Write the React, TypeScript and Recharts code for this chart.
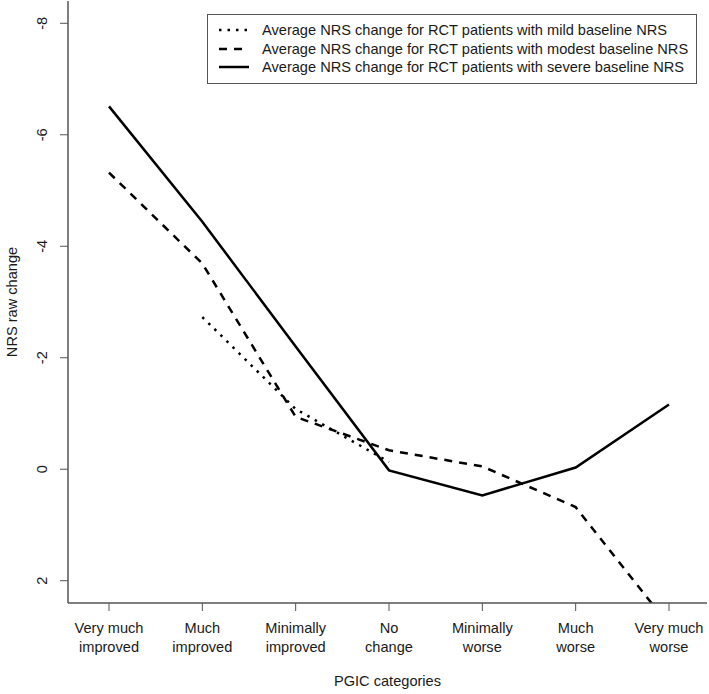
import React from "react";
import {
    LineChart,
    Line,
    XAxis,
    YAxis,
    Legend,
} from "recharts";

const categories = [
    "Very much improved",
    "Much improved",
    "Minimally improved",
    "No change",
    "Minimally worse",
    "Much worse",
    "Very much worse",
];

const mildValues = [null, -2.73, -1.08, -0.13, null, null, null];
const modestValues = [-5.32, -3.69, -0.94, -0.34, -0.05, 0.68, 2.8];
const severeValues = [-6.51, -4.44, -2.2, 0.02, 0.47, -0.03, -1.16];

const yTicks = [-8, -6, -4, -2, 0, 2];

const seriesNames = [
    "Average NRS change for RCT patients with mild baseline NRS",
    "Average NRS change for RCT patients with modest baseline NRS",
    "Average NRS change for RCT patients with severe baseline NRS",
];

const FONT = "'Liberation Sans', Arial, sans-serif";
const FS = 14.6;
const AXIS = "#555";
const TEXT = "#1a1a1a";

const data = categories.map((cat, i) => ({
    cat,
    mild: mildValues[i],
    modest: modestValues[i],
    severe: severeValues[i],
}));

const legendItems = [
    { name: seriesNames[0], dash: "2.5 6" },
    { name: seriesNames[1], dash: "8 7" },
    { name: seriesNames[2], dash: undefined },
];

// splits "Very much improved" -> ["Very much", "improved"]
const splitLabel = (s: string) => {
    const k = s.lastIndexOf(" ");
    return [s.slice(0, k), s.slice(k + 1)];
};

const XTick = (props: any) => {
    const { x, y, payload } = props;
    const [a, b] = splitLabel(payload.value);
    return (
        <text x={x} y={y} textAnchor="middle" fontSize={FS} fill={TEXT} fontFamily={FONT}>
            <tspan x={x} dy={20}>{a}</tspan>
            <tspan x={x} dy={19}>{b}</tspan>
        </text>
    );
};

const YTick = (props: any) => {
    const { y, payload } = props;
    return (
        <text
            transform={`translate(42,${y}) rotate(-90)`}
            textAnchor="middle"
            dominantBaseline="central"
            fontSize={FS}
            fill={TEXT}
            fontFamily={FONT}
        >
            {payload.value}
        </text>
    );
};

const LegendBox = () => (
    <div
        style={{
            border: `1px solid ${AXIS}`,
            background: "#fff",
            padding: "6px 0 7px 11px",
            fontFamily: FONT,
            fontSize: FS,
            color: TEXT,
            boxSizing: "border-box",
            width: 490,
            height: 70,
        }}
    >
        {legendItems.map((it) => (
            <div key={it.name} style={{ display: "flex", alignItems: "center", height: 18.5 }}>
                <svg width={30} height={10} style={{ marginRight: 13, flexShrink: 0 }}>
                    <line x1={0} y1={5} x2={30} y2={5} stroke="#000" strokeWidth={2.5} strokeDasharray={it.dash} />
                </svg>
                <span style={{ whiteSpace: "nowrap" }}>{it.name}</span>
            </div>
        ))}
    </div>
);

export default function App() {
    return (
        <div style={{ position: "absolute", left: 0, top: 0, background: "#fff" }}>
            <LineChart width={709} height={694} data={data} margin={{ top: 1, right: 2, left: 0, bottom: 0 }}>
                <XAxis
                    dataKey="cat"
                    height={91}
                    padding={{ left: 41, right: 38 }}
                    tick={<XTick />}
                    tickSize={8}
                    tickLine={{ stroke: AXIS }}
                    axisLine={{ stroke: AXIS, strokeWidth: 1.5 }}
                    interval={0}
                    label={({ viewBox }: any) => (
                        <text
                            x={viewBox.x + viewBox.width / 2}
                            y={viewBox.y + 78}
                            textAnchor="middle"
                            dominantBaseline="central"
                            fontSize={FS}
                            fill={TEXT}
                            fontFamily={FONT}
                        >
                            PGIC categories
                        </text>
                    )}
                />
                <XAxis
                    xAxisId="top"
                    orientation="top"
                    dataKey="cat"
                    height={0}
                    tick={false}
                    tickLine={false}
                    axisLine={{ stroke: AXIS, strokeWidth: 1.5 }}
                />
                <YAxis
                    type="number"
                    domain={[-8.4, 2.4]}
                    reversed
                    allowDataOverflow
                    ticks={yTicks}
                    width={68}
                    tickSize={8}
                    tick={<YTick />}
                    tickLine={{ stroke: AXIS }}
                    axisLine={{ stroke: AXIS, strokeWidth: 1.5 }}
                    label={({ viewBox }: any) => (
                        <text
                            transform={`translate(12,${viewBox.y + viewBox.height / 2}) rotate(-90)`}
                            textAnchor="middle"
                            dominantBaseline="central"
                            fontSize={FS}
                            fill={TEXT}
                            fontFamily={FONT}
                        >
                            NRS raw change
                        </text>
                    )}
                />
                <YAxis
                    yAxisId="right"
                    orientation="right"
                    type="number"
                    domain={[-8.4, 2.4]}
                    width={0}
                    tick={false}
                    tickLine={false}
                    axisLine={{ stroke: AXIS, strokeWidth: 1.5 }}
                />
                <Legend
                    layout="horizontal"
                    verticalAlign="middle"
                    align="center"
                    content={<LegendBox />}
                    wrapperStyle={{ top: 14, left: 207, width: 490 }}
                />
                <Line
                    dataKey="mild"
                    stroke="#000"
                    strokeWidth={2.5}
                    strokeDasharray="2.5 6"
                    dot={false}
                    activeDot={false}
                    isAnimationActive={false}
                />
                <Line
                    dataKey="modest"
                    stroke="#000"
                    strokeWidth={2.5}
                    strokeDasharray="8 7"
                    dot={false}
                    activeDot={false}
                    isAnimationActive={false}
                />
                <Line
                    dataKey="severe"
                    stroke="#000"
                    strokeWidth={2.5}
                    dot={false}
                    activeDot={false}
                    isAnimationActive={false}
                />
            </LineChart>
        </div>
    );
}
